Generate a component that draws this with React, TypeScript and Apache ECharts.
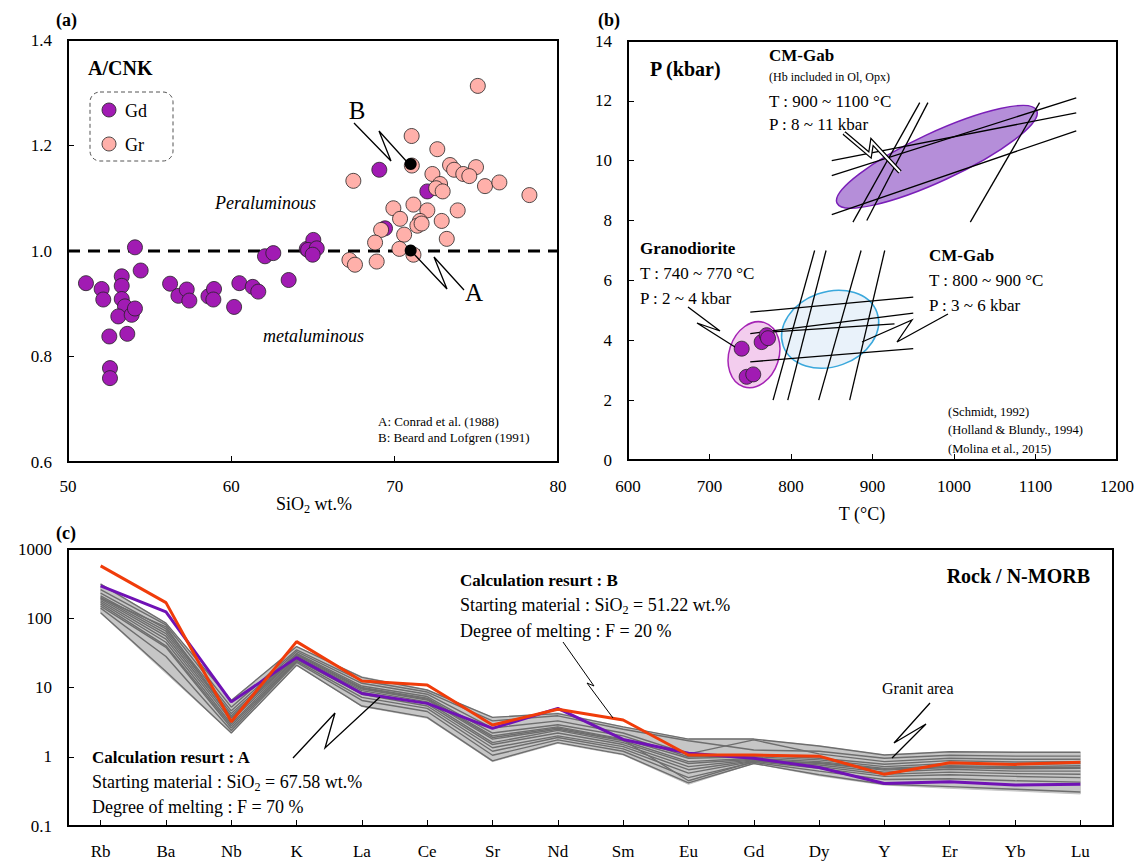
import React, { useEffect, useRef } from "react";
import * as echarts from "echarts";

const F = "'Liberation Serif', 'Times New Roman', serif";

// ---------- Panel (a): A/CNK vs SiO2 ----------
const gdSiO2 = [51.1, 52.06, 52.16, 53.29, 53.29, 53.29, 53.49, 53.08, 53.9, 54.1, 52.53, 53.63, 52.57, 52.57, 54.1, 54.45, 56.25, 56.76, 57.27, 57.43, 58.6, 58.94, 58.9, 60.17, 60.49, 61.31, 61.65, 62.06, 62.57, 63.51, 64.62, 65.02, 64.7, 65.23, 64.98, 69.06, 72.0, 69.41];
const gdACNK = [0.939, 0.928, 0.908, 0.952, 0.934, 0.909, 0.895, 0.876, 0.879, 0.891, 0.838, 0.843, 0.778, 0.759, 1.007, 0.963, 0.938, 0.915, 0.927, 0.906, 0.914, 0.928, 0.908, 0.894, 0.939, 0.932, 0.923, 0.99, 0.996, 0.945, 1.004, 1.021, 1.002, 1.005, 0.993, 1.154, 1.113, 1.043];
const grSiO2 = [75.09, 71.04, 72.61, 73.39, 73.64, 74.98, 74.2, 74.57, 72.31, 67.47, 75.53, 76.41, 78.25, 72.78, 72.54, 72.94, 69.92, 71.15, 72.0, 73.86, 70.33, 71.55, 71.39, 71.65, 72.88, 69.17, 70.58, 73.19, 68.8, 70.29, 71.15, 67.23, 67.57, 68.9, 71.05];
const grACNK = [1.313, 1.218, 1.193, 1.163, 1.154, 1.159, 1.146, 1.142, 1.146, 1.133, 1.123, 1.13, 1.106, 1.127, 1.119, 1.113, 1.081, 1.088, 1.077, 1.077, 1.061, 1.057, 1.048, 1.052, 1.057, 1.04, 1.031, 1.023, 1.016, 1.004, 0.993, 0.983, 0.974, 0.98, 1.162];
const expSiO2 = [70.98, 70.98];
const expACNK = [1.001, 1.165];
const refLineX = [50, 80];
const refLineY = [1.0, 1.0];

// ---------- Panel (b): P-T ----------
const grdT = [739.5, 764, 770.2, 771.8, 745.6, 753.7];
const grdP = [3.72, 3.94, 4.17, 4.07, 2.78, 2.86];
const segT1 = [850, 850, 850, 876, 893, 1020, 778, 796, 834, 872, 750, 750, 750, 778];
const segP1 = [10.0, 9.5, 8.2, 7.95, 8.0, 7.95, 2.0, 2.0, 2.0, 2.0, 4.94, 4.22, 3.28, 4.28];
const segT2 = [1150, 1150, 1150, 958, 968, 1105, 829, 843, 886, 915, 950, 950, 950, 927];
const segP2 = [11.6, 12.1, 11.0, 11.94, 11.94, 11.94, 7.0, 7.0, 7.0, 7.0, 5.44, 4.91, 3.72, 4.55];
const ellCenterT = [979, 848, 754.6];
const ellCenterP = [10.13, 4.37, 3.52];
const ellAxisT = [1101.5, 905.5, 767.5];
const ellAxisP = [11.68, 4.93, 4.59];
const ellRatio = [0.22, 0.75, 0.74];
const ellFill = ["#B58ED9", "#E9F2FA", "#F3CDEE"];
const ellStroke = ["#7A1FB8", "#3AA8DC", "#A524B5"];

// ---------- Panel (c): spider diagram ----------
const elements = ["Rb", "Ba", "Nb", "K", "La", "Ce", "Sr", "Nd", "Sm", "Eu", "Gd", "Dy", "Y", "Er", "Yb", "Lu"];
const calcB = [571, 168, 3.2, 46, 12.4, 10.9, 2.87, 4.84, 3.39, 1.06, 1.06, 1.02, 0.557, 0.818, 0.776, 0.83];
const calcA = [293, 124, 6.2, 27, 8.2, 5.9, 2.57, 5.0, 1.78, 1.12, 0.95, 0.7, 0.41, 0.436, 0.39, 0.4];
const envUpper = [315, 85, 6.6, 39, 14.3, 9.2, 3.7, 4.3, 2.7, 1.8, 1.8, 1.43, 1.06, 1.18, 1.16, 1.16];
const envLower = [118, 16, 2.2, 21, 5.3, 3.6, 0.85, 1.56, 1.06, 0.4, 0.8, 0.53, 0.39, 0.35, 0.32, 0.29];
const gray1 = [310, 85, 6.5, 39, 14, 9.2, 3.7, 4.2, 2.7, 1.8, 1.8, 1.43, 1.06, 1.18, 1.16, 1.16];
const gray2 = [260, 80, 5.2, 35, 12.5, 8.6, 3.3, 3.9, 2.5, 1.7, 1.25, 1.2, 0.95, 1.05, 1.02, 1.02];
const gray3 = [230, 70, 4.6, 33, 11.5, 8.0, 2.6, 3.3, 2.2, 1.1, 1.75, 1.1, 0.85, 0.95, 0.92, 0.92];
const gray4 = [210, 65, 4.2, 31, 10.5, 7.4, 2.2, 2.9, 2.0, 1.0, 1.05, 0.95, 0.78, 0.88, 0.84, 0.85];
const gray5 = [200, 60, 3.9, 30, 10, 7.0, 2.0, 2.7, 1.8, 0.95, 1.0, 0.9, 0.72, 0.8, 0.78, 0.8];
const gray6 = [190, 55, 3.6, 28, 9.5, 6.6, 1.8, 2.5, 1.7, 0.85, 0.95, 0.85, 0.68, 0.74, 0.72, 0.74];
const gray7 = [180, 50, 3.3, 27, 9.0, 6.2, 1.6, 2.4, 1.6, 0.8, 0.92, 0.8, 0.64, 0.7, 0.67, 0.68];
const gray8 = [170, 45, 3.0, 26, 8.5, 5.8, 1.5, 2.2, 1.5, 0.72, 0.9, 0.76, 0.6, 0.66, 0.62, 0.62];
const gray9 = [160, 40, 2.8, 25, 8.0, 5.4, 1.35, 2.0, 1.4, 0.65, 0.88, 0.72, 0.56, 0.6, 0.57, 0.56];
const gray10 = [150, 38, 2.6, 24, 7.2, 5.0, 1.2, 1.9, 1.3, 0.58, 0.86, 0.68, 0.52, 0.55, 0.52, 0.5];
const gray11 = [140, 28, 2.4, 23, 6.5, 4.5, 1.05, 1.75, 1.2, 0.5, 0.83, 0.62, 0.47, 0.48, 0.45, 0.43];
const gray12 = [120, 17, 2.2, 21, 5.4, 3.7, 0.87, 1.6, 1.08, 0.42, 0.8, 0.55, 0.4, 0.37, 0.34, 0.31];
const gray13 = [195, 75, 3.7, 29, 9.8, 6.8, 1.9, 2.6, 1.75, 0.45, 0.85, 0.82, 0.66, 0.72, 0.7, 0.7];
const grayLines = [gray1, gray2, gray3, gray4, gray5, gray6, gray7, gray8, gray9, gray10, gray11, gray12, gray13];

const PURPLE = "#A11BB3";
const PINK = "#FFB0AA";

function txt(x: number, y: number, text: string, size: number, opts: any = {}) {
  return {
    type: "text",
    x,
    y,
    z: 100,
    style: {
      text,
      fontSize: size,
      fontFamily: F,
      fontWeight: opts.bold ? "bold" : "normal",
      fontStyle: opts.italic ? "italic" : "normal",
      fill: "#000",
      align: opts.align || "left",
      verticalAlign: "middle",
    },
  };
}

function richSub(x: number, y: number, pre: string, sub: string, post: string, size: number, align = "left") {
  return {
    type: "text",
    x,
    y,
    z: 100,
    style: {
      text: `{a|${pre}}{s|${sub}}{a|${post}}`,
      align,
      verticalAlign: "middle",
      rich: {
        a: { fontSize: size, fontFamily: F, fill: "#000", lineHeight: size + 4, verticalAlign: "middle" },
        s: { fontSize: size * 0.68, fontFamily: F, fill: "#000", lineHeight: size + 4, verticalAlign: "bottom" },
      },
    },
  };
}

function leader(points: number[][], width = 1.3) {
  return { type: "polyline", z: 90, shape: { points }, style: { stroke: "#000", lineWidth: width, fill: "none" } };
}

function valAxis(gridIndex: number, min: number, max: number, interval: number, margin: number, fmt?: any) {
  return {
    type: "value",
    gridIndex,
    min,
    max,
    interval,
    axisLine: { show: true, onZero: false, lineStyle: { color: "#000", width: 2 } },
    axisTick: { show: true, inside: true, length: 6, lineStyle: { color: "#000", width: 1 } },
    axisLabel: { color: "#000", fontSize: 17, fontFamily: F, margin, formatter: fmt || ((v: number) => String(v)), showMinLabel: true, showMaxLabel: true },
    splitLine: { show: false },
  };
}

export default function App() {
  const ref = useRef<HTMLDivElement>(null);
  useEffect(() => {
    if (!ref.current) return;
    const chart = echarts.init(ref.current, null, { renderer: "svg" });

    const series: any[] = [];
    // Panel a
    series.push({
      type: "line", xAxisIndex: 0, yAxisIndex: 0, symbol: "none", silent: true, z: 2,
      data: refLineX.map((x, i) => [x, refLineY[i]]),
      lineStyle: { color: "#000", width: 3, type: [12, 8] },
    });
    series.push({
      type: "scatter", xAxisIndex: 0, yAxisIndex: 0, symbolSize: 15, z: 3,
      data: gdSiO2.map((x, i) => [x, gdACNK[i]]),
      itemStyle: { color: PURPLE, borderColor: "#222", borderWidth: 0.8, opacity: 1 },
    });
    series.push({
      type: "scatter", xAxisIndex: 0, yAxisIndex: 0, symbolSize: 15, z: 4,
      data: grSiO2.map((x, i) => [x, grACNK[i]]),
      itemStyle: { color: PINK, borderColor: "#222", borderWidth: 0.8, opacity: 1 },
    });
    series.push({
      type: "scatter", xAxisIndex: 0, yAxisIndex: 0, symbolSize: 12, z: 5,
      data: expSiO2.map((x, i) => [x, expACNK[i]]),
      itemStyle: { color: "#000", opacity: 1 },
    });
    // Panel b
    series.push({
      type: "custom", xAxisIndex: 1, yAxisIndex: 1, z: 1, silent: true,
      data: ellCenterT.map((t, i) => [t, ellCenterP[i]]),
      renderItem: (params: any, api: any) => {
        const i = params.dataIndex;
        const c = api.coord([ellCenterT[i], ellCenterP[i]]);
        const m = api.coord([ellAxisT[i], ellAxisP[i]]);
        const dx = m[0] - c[0];
        const dy = m[1] - c[1];
        const a = Math.hypot(dx, dy);
        return {
          type: "ellipse",
          x: c[0], y: c[1],
          rotation: Math.atan2(-dy, dx),
          shape: { cx: 0, cy: 0, rx: a, ry: a * ellRatio[i] },
          style: { fill: ellFill[i], stroke: ellStroke[i], lineWidth: 1.5 },
        };
      },
    });
    series.push({
      type: "lines", coordinateSystem: "cartesian2d", xAxisIndex: 1, yAxisIndex: 1, z: 2, silent: true,
      data: segT1.map((t, i) => ({ coords: [[t, segP1[i]], [segT2[i], segP2[i]]] })),
      lineStyle: { color: "#000", width: 1.3, opacity: 1 },
    });
    series.push({
      type: "scatter", xAxisIndex: 1, yAxisIndex: 1, symbolSize: 15, z: 3,
      data: grdT.map((t, i) => [t, grdP[i]]),
      itemStyle: { color: PURPLE, borderColor: "#222", borderWidth: 0.8, opacity: 1 },
    });
    // Panel c
    series.push({
      type: "custom", xAxisIndex: 2, yAxisIndex: 2, z: 1, silent: true,
      data: [[0, 1]],
      renderItem: (params: any, api: any) => {
        const pts: number[][] = [];
        envUpper.forEach((v, i) => pts.push(api.coord([i, v])));
        for (let i = envLower.length - 1; i >= 0; i--) pts.push(api.coord([i, envLower[i]]));
        return { type: "polygon", shape: { points: pts }, style: { fill: "#C6C6C6", stroke: "#C6C6C6", lineWidth: 1 } };
      },
    });
    grayLines.forEach((g) => {
      series.push({
        type: "line", xAxisIndex: 2, yAxisIndex: 2, symbol: "none", z: 2, silent: true,
        data: g, lineStyle: { color: "#6E6E6E", width: 1.4 },
      });
    });
    series.push({
      type: "line", xAxisIndex: 2, yAxisIndex: 2, symbol: "none", z: 3, silent: true,
      data: calcA, lineStyle: { color: "#7012B5", width: 3 },
    });
    series.push({
      type: "line", xAxisIndex: 2, yAxisIndex: 2, symbol: "none", z: 4, silent: true,
      data: calcB, lineStyle: { color: "#F03C0A", width: 3 },
    });

    const graphic: any[] = [
      // panel labels
      txt(56, 20, "(a)", 18, { bold: true }),
      txt(598, 20, "(b)", 18, { bold: true }),
      txt(56, 533, "(c)", 18, { bold: true }),
      // panel a
      txt(88, 68, "A/CNK", 20, { bold: true }),
      { type: "rect", z: 95, shape: { x: 90, y: 92, width: 83, height: 69, r: 10 }, style: { fill: "none", stroke: "#555", lineWidth: 1, lineDash: [4, 3] } },
      { type: "circle", z: 96, shape: { cx: 109, cy: 110, r: 7 }, style: { fill: PURPLE, stroke: "#222", lineWidth: 0.8 } },
      { type: "circle", z: 96, shape: { cx: 109, cy: 144, r: 7 }, style: { fill: PINK, stroke: "#222", lineWidth: 0.8 } },
      txt(125, 111, "Gd", 18),
      txt(125, 145, "Gr", 18),
      txt(215, 203, "Peraluminous", 18, { italic: true }),
      txt(263, 336, "metaluminous", 18, { italic: true }),
      txt(357, 110, "B", 25, { align: "center" }),
      txt(474, 292, "A", 25, { align: "center" }),
      leader([[354, 123], [391, 161], [379, 131], [408, 163]]),
      leader([[414, 254], [447, 289], [434, 257], [464, 290]]),
      txt(378, 421, "A: Conrad et al. (1988)", 13),
      txt(378, 437, "B: Beard and Lofgren (1991)", 13),
      richSub(314, 504, "SiO", "2", " wt.%", 18, "center"),
      // panel b
      txt(650, 69, "P (kbar)", 20, { bold: true }),
      txt(769, 55, "CM-Gab", 17, { bold: true }),
      txt(769, 77, "(Hb included in Ol, Opx)", 12),
      txt(769, 101, "T : 900 ~ 1100 °C", 17),
      txt(769, 124, "P : 8 ~ 11 kbar", 17),
      { type: "polyline", z: 90, shape: { points: [[844, 133], [870, 155], [872, 142], [900, 172]] }, style: { stroke: "#000", lineWidth: 4.5, fill: "none" } },
      { type: "polyline", z: 91, shape: { points: [[844, 133], [870, 155], [872, 142], [900, 172]] }, style: { stroke: "#fff", lineWidth: 2, fill: "none" } },
      txt(640, 248, "Granodiorite", 17, { bold: true }),
      txt(640, 273, "T : 740 ~ 770 °C", 17),
      txt(640, 298, "P : 2 ~ 4 kbar", 17),
      leader([[688, 307], [720, 331], [697, 323], [735, 347]]),
      txt(929, 255, "CM-Gab", 17, { bold: true }),
      txt(929, 280, "T : 800 ~ 900 °C", 17),
      txt(929, 305, "P : 3 ~ 6 kbar", 17),
      leader([[948, 314], [897, 342], [912, 320], [862, 342]]),
      txt(948, 412, "(Schmidt, 1992)", 12.5),
      txt(948, 430, "(Holland & Blundy., 1994)", 12.5),
      txt(948, 449, "(Molina et al., 2015)", 12.5),
      txt(862, 514, "T (°C)", 18, { align: "center" }),
      // panel c
      txt(1090, 576, "Rock / N-MORB", 20, { bold: true, align: "right" }),
      txt(460, 580, "Calculation resurt : B", 17, { bold: true }),
      richSub(460, 605, "Starting material : SiO", "2", " = 51.22 wt.%", 18),
      txt(460, 631, "Degree of melting : F = 20 %", 18),
      leader([[563, 642], [594, 686], [587, 683], [613, 718]], 1),
      txt(92, 757, "Calculation resurt : A", 17, { bold: true }),
      richSub(92, 782, "Starting material : SiO", "2", " = 67.58 wt.%", 18),
      txt(92, 807, "Degree of melting : F = 70 %", 18),
      leader([[293, 758], [335, 713], [325, 748], [380, 697]]),
      txt(882, 688, "Granit area", 16),
      leader([[930, 703], [894, 743], [926, 724], [892, 758]]),
    ];

    const option: any = {
      animation: false,
      backgroundColor: "#fff",
      textStyle: { fontFamily: F },
      grid: [
        { left: 68, top: 40, width: 490, height: 422, show: true, borderColor: "#000", borderWidth: 2, backgroundColor: "transparent" },
        { left: 628, top: 41, width: 489, height: 419, show: true, borderColor: "#000", borderWidth: 2, backgroundColor: "transparent" },
        { left: 68, top: 549, width: 1045, height: 277, show: true, borderColor: "#000", borderWidth: 2, backgroundColor: "transparent" },
      ],
      xAxis: [
        valAxis(0, 50, 80, 10, 16),
        valAxis(1, 600, 1200, 100, 18),
        {
          type: "category", gridIndex: 2, data: elements, boundaryGap: true,
          axisLine: { show: true, lineStyle: { color: "#000", width: 2 } },
          axisTick: { show: true, inside: true, alignWithLabel: true, length: 6, lineStyle: { color: "#000", width: 1 } },
          axisLabel: { color: "#000", fontSize: 17, fontFamily: F, margin: 17, interval: 0 },
          splitLine: { show: false },
        },
      ],
      yAxis: [
        valAxis(0, 0.6, 1.4, 0.2, 16, (v: number) => v.toFixed(1)),
        valAxis(1, 0, 14, 2, 16),
        {
          type: "log", gridIndex: 2, logBase: 10, min: 0.1, max: 1000,
          axisLine: { show: true, lineStyle: { color: "#000", width: 2 } },
          axisTick: { show: true, inside: true, length: 6, lineStyle: { color: "#000", width: 1 } },
          minorTick: { show: false },
          axisLabel: { color: "#000", fontSize: 17, fontFamily: F, margin: 16, formatter: (v: number) => String(parseFloat(Number(v).toPrecision(3))) },
          splitLine: { show: false },
        },
      ],
      series,
      graphic,
    };
    chart.setOption(option);
    return () => chart.dispose();
  }, []);
  return <div ref={ref} style={{ position: "absolute", left: 0, top: 0, width: 1140, height: 862 }} />;
}
